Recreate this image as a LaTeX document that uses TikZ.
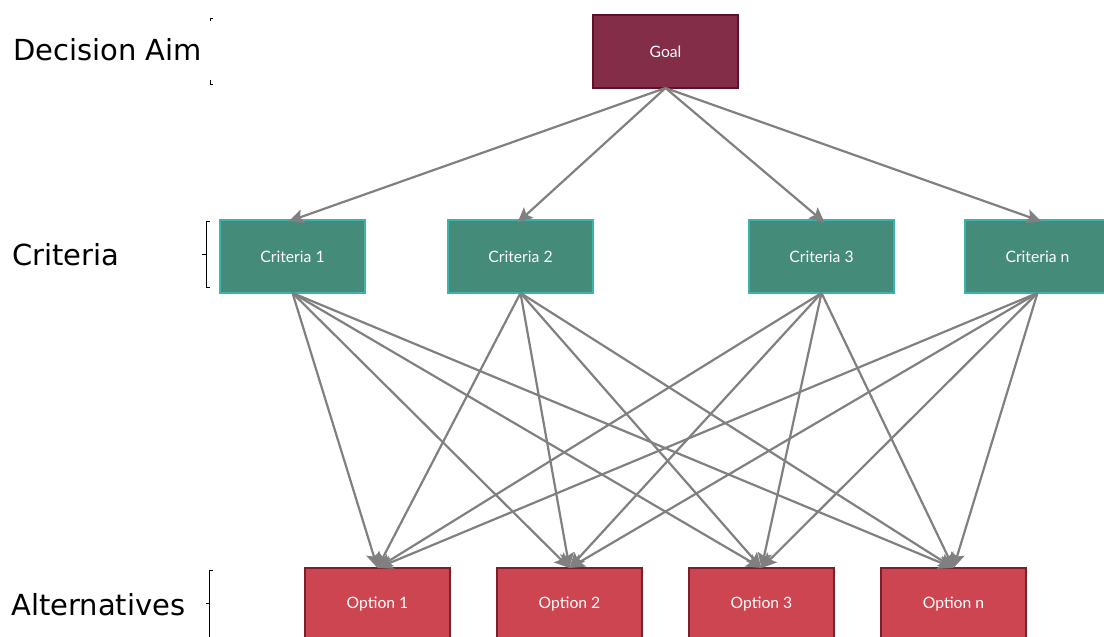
\documentclass[tikz,border=0pt]{standalone}
\usepackage{fontspec}
\setmainfont{Lato}
\newfontfamily\levelfont{DejaVu Sans}
\usetikzlibrary{arrows.meta}
\definecolor{goalfill}{HTML}{832D48}
\definecolor{goalline}{HTML}{5E1129}
\definecolor{critfill}{HTML}{458B79}
\definecolor{critline}{HTML}{3AB5AE}
\definecolor{optfill}{HTML}{CC4550}
\definecolor{optline}{HTML}{7D1F2A}
\definecolor{linkgray}{HTML}{808080}
\tikzset{
  box/.style={anchor=north west, minimum width=145pt, minimum height=73pt,
    inner sep=0pt, outer sep=0pt, line width=1.6pt, text=white, font=\fontsize{15.7}{18}\selectfont},
  goalbox/.style={box, fill=goalfill, draw=goalline},
  critbox/.style={box, fill=critfill, draw=critline},
  optbox/.style={box, fill=optfill, draw=optline},
  link/.style={draw=linkgray, line width=2.2pt,
    -{Stealth[length=15pt, width=14pt, inset=3pt]}},
  downlink/.style={link, shorten >=-4pt},
  level/.style={anchor=west, inner sep=0pt, font=\levelfont\fontsize{29}{33}\selectfont},
  bracket/.style={draw=black, line width=0.8pt}
}
\begin{document}
\begin{tikzpicture}[x=1pt, y=-1pt]
\useasboundingbox (0,0) rectangle (1104,637);
\clip (0,0) rectangle (1104,637);

% level captions
\node[level] (aim) at (13,50) {Decision Aim};
\node[level] (crit) at (12,255) {Criteria};
\node[level] (alt) at (11,605) {Alternatives};

% brackets beside the levels
\draw[bracket] (213,18) -- (210,18) -- (210,21);
\draw[bracket] (210,80) -- (210,84) -- (213,84);
\draw[bracket] (210,221) -- (206,221) -- (206,287) -- (210,287);
\draw[bracket] (206,254) -- (202,254);
\draw[bracket] (213,570) -- (209,570) -- (209,640);
\draw[bracket] (209,603) -- (206,603);

% hierarchy
\node[goalbox] (goal) at (593,15) {Goal};

\node[critbox] (c1) at (220,220) {Criteria 1};
\node[critbox] (c2) at (448,220) {Criteria 2};
\node[critbox] (c3) at (749,220) {Criteria 3};
\node[critbox] (cn) at (965,220) {Criteria n};

\node[optbox] (o1) at (305,568) {Option 1};
\node[optbox] (o2) at (497,568) {Option 2};
\node[optbox] (o3) at (689,568) {Option 3};
\node[optbox] (on) at (881,568) {Option n};

\foreach \c in {c1,c2,c3,cn}
  \draw[downlink] (goal.south) -- (\c.north);

\foreach \c in {c1,c2,c3,cn}
  \foreach \o in {o1,o2,o3,on}
    \draw[link] (\c.south) -- (\o.north);
\end{tikzpicture}
\end{document}
